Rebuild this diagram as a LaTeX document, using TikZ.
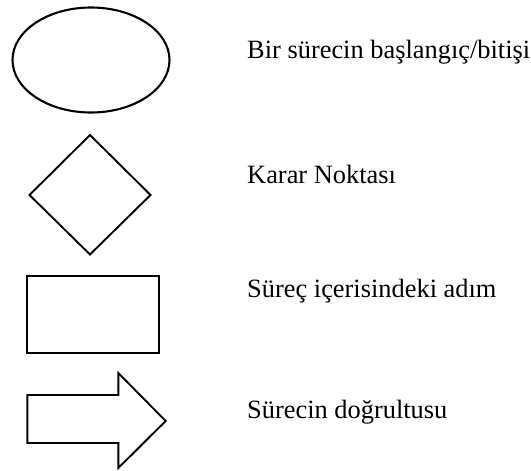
\documentclass[tikz,border=0pt]{standalone}
\usepackage{fontspec}
\setmainfont{Liberation Serif}
\newfontfamily\legendfont{Liberation Serif}
\begin{document}
\begin{tikzpicture}[x=1pt,y=-1pt,
  shapeline/.style={draw=black,line width=1.9pt,line join=miter},
  legend/.style={anchor=base west,inner sep=0pt,font=\legendfont\fontsize{26.4}{30}\selectfont}]
\useasboundingbox (0,0) rectangle (531,471);
% start / end symbol
\draw[shapeline,line width=2.1pt] (91,60) ellipse [x radius=78.5, y radius=52.5];
% decision symbol
\draw[shapeline] (90,135) -- (150.5,195) -- (90,254.5) -- (29.5,195) -- cycle;
% process step symbol
\draw[shapeline] (27,276) rectangle (159,353);
% flow direction symbol
\coordinate (tailtop) at (27.3,395);
\coordinate (tailbot) at (27.3,443);
\draw[shapeline] (tailtop) -- (118.3,395) -- (118.3,373) -- (165.7,421)
  -- (118.3,468) -- (118.3,443) -- (tailbot) -- cycle;
% legend texts
\node[legend] (t1) at (247,59) {Bir sürecin başlangıç/bitişi};
\node[legend] (t2) at (247,183) {Karar Noktası};
\node[legend] (t3) at (247,297) {Süreç içerisindeki adım};
\node[legend] (t4) at (247,418) {Sürecin doğrultusu};
\end{tikzpicture}
\end{document}
